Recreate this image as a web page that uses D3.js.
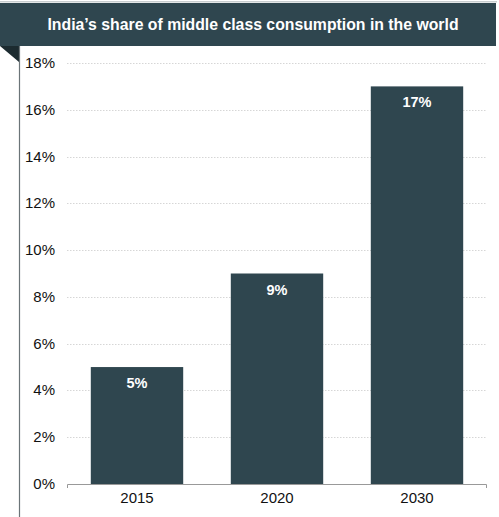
<!DOCTYPE html>
<html>
<head>
<meta charset="utf-8">
<script src="https://cdn.jsdelivr.net/npm/d3@7"></script>
<style>
  body { margin: 0; background: #fff; }
  svg { display: block; font-family: "Liberation Sans", Arial, sans-serif; }
</style>
</head>
<body>
<div id="chart"></div>
<script>
// chart data
const years = ['2015', '2020', '2030'];
const shares = [5, 9, 17];
const yTicks = [0, 2, 4, 6, 8, 10, 12, 14, 16, 18];
const title = 'India\u2019s share of middle class consumption in the world';

const width = 499, height = 517;
const dark = '#2f464f';
const margin = { top: 63, right: 12, bottom: 33, left: 67 };

const svg = d3.select('#chart').append('svg')
  .attr('width', width)
  .attr('height', height);

// header band
svg.append('rect')
  .attr('x', 0).attr('y', 1)
  .attr('width', 497).attr('height', 1.5)
  .attr('fill', '#c8cdcf');
svg.append('rect')
  .attr('x', 0).attr('y', 3)
  .attr('width', 496).attr('height', 43)
  .attr('fill', dark);
svg.append('path')
  .attr('d', 'M0,46 L19,46 L19,62 Z')
  .attr('fill', '#1c2b30');
svg.append('line')
  .attr('x1', 19.5).attr('x2', 19.5)
  .attr('y1', 46).attr('y2', height)
  .attr('stroke', '#6b7478').attr('stroke-width', 1.2);
svg.append('text')
  .attr('x', 253).attr('y', 30)
  .attr('text-anchor', 'middle')
  .attr('fill', '#fff')
  .attr('font-size', 15.8)
  .attr('font-weight', 'bold')
  .text(title);

const x = d3.scaleBand()
  .domain(years)
  .range([margin.left, width - margin.right])
  .paddingInner(0.34)
  .paddingOuter(0.17);

const y = d3.scaleLinear()
  .domain([0, 18])
  .range([height - margin.bottom, margin.top]);

// grid lines
svg.append('g')
  .selectAll('line')
  .data(yTicks.filter(d => d > 0))
  .join('line')
  .attr('x1', margin.left).attr('x2', width - margin.right)
  .attr('y1', d => Math.round(y(d)) + 0.5)
  .attr('y2', d => Math.round(y(d)) + 0.5)
  .attr('stroke', '#d6d6d6')
  .attr('stroke-dasharray', '1.5,1.5');

// y labels
svg.append('g')
  .selectAll('text')
  .data(yTicks)
  .join('text')
  .attr('x', 55)
  .attr('y', d => y(d) + 5)
  .attr('text-anchor', 'end')
  .attr('font-size', 15)
  .attr('fill', '#111')
  .text(d => d + '%');

// bars
svg.append('g')
  .selectAll('rect')
  .data(shares)
  .join('rect')
  .attr('x', (d, i) => x(years[i]))
  .attr('y', d => y(d))
  .attr('width', x.bandwidth())
  .attr('height', d => y(0) - y(d))
  .attr('fill', dark);

// bar labels
svg.append('g')
  .selectAll('text')
  .data(shares)
  .join('text')
  .attr('x', (d, i) => x(years[i]) + x.bandwidth() / 2)
  .attr('y', d => y(d) + 21)
  .attr('text-anchor', 'middle')
  .attr('fill', '#fff')
  .attr('font-size', 14.5)
  .attr('font-weight', 'bold')
  .text(d => d + '%');

// x axis
const axis = svg.append('g')
  .attr('transform', `translate(0,${y(0)})`)
  .call(d3.axisBottom(x).tickSize(0).tickPadding(8));
axis.select('.domain')
  .attr('stroke', '#999')
  .attr('d', `M${margin.left + 0.5},4V0.5H${width - margin.right - 0.5}V4`);
axis.selectAll('text')
  .attr('font-size', 15)
  .attr('font-family', '"Liberation Sans", Arial, sans-serif')
  .attr('fill', '#111');
</script>
</body>
</html>
